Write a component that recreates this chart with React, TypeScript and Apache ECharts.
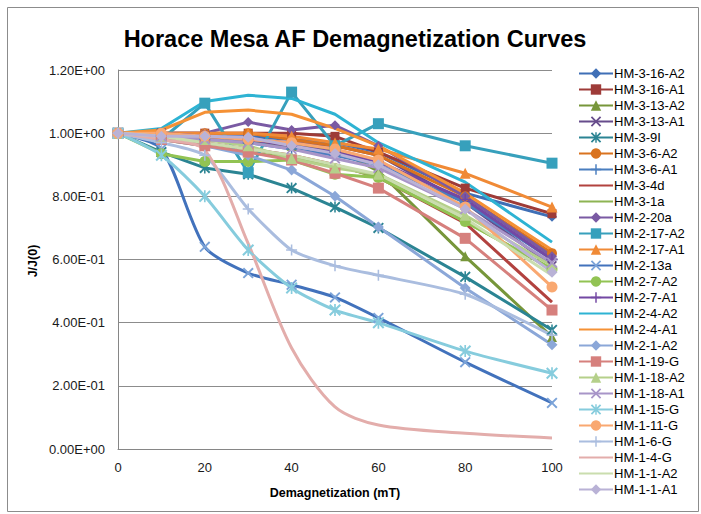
import React, { useEffect, useRef } from "react";
import * as echarts from "echarts";

// Demagnetization steps (mT)
const steps = [0, 10, 20, 30, 40, 50, 60, 80, 100];

// J/J(0) values per sample, one per step
const hm316A2 = [1.0, 1.0, 0.99, 0.99, 0.98, 0.97, 0.94, 0.81, 0.735];
const hm316A1 = [1.0, 1.0, 1.0, 1.0, 1.0, 0.99, 0.94, 0.826, 0.745];
const hm313A2 = [1.0, 0.99, 0.98, 0.97, 0.96, 0.95, 0.88, 0.61, 0.355];
const hm313A1 = [1.0, 1.0, 0.99, 0.98, 0.97, 0.96, 0.93, 0.78, 0.58];
const hm39I = [1.0, 0.94, 0.89, 0.87, 0.826, 0.766, 0.7, 0.545, 0.377];
const hm36A2 = [1.0, 1.0, 1.0, 1.0, 0.98, 0.96, 0.93, 0.8, 0.62];
const hm36A1 = [1.0, 0.99, 0.98, 0.97, 0.95, 0.93, 0.9, 0.78, 0.6];
const hm34d = [1.0, 0.99, 0.97, 0.95, 0.93, 0.9, 0.86, 0.715, 0.465];
const hm31a = [1.0, 0.98, 0.96, 0.94, 0.92, 0.9, 0.86, 0.72, 0.57];
const hm220a = [1.0, 1.0, 1.0, 1.035, 1.01, 1.025, 0.96, 0.8, 0.61];
const hm217A2 = [1.0, 0.98, 1.095, 0.875, 1.13, 0.96, 1.03, 0.96, 0.905];
const hm217A1 = [1.0, 1.0, 1.0, 1.0, 0.99, 0.97, 0.95, 0.873, 0.766];
const hm213a = [1.0, 0.95, 0.64, 0.557, 0.52, 0.48, 0.415, 0.275, 0.146];
const hm27A2 = [1.0, 0.935, 0.91, 0.91, 0.915, 0.87, 0.86, 0.72, 0.57];
const hm27A1 = [1.0, 1.0, 0.99, 0.98, 0.96, 0.94, 0.91, 0.79, 0.6];
const hm24A2 = [1.0, 1.015, 1.1, 1.12, 1.11, 1.06, 0.97, 0.845, 0.655];
const hm24A1 = [1.0, 1.01, 1.066, 1.073, 1.06, 1.015, 0.96, 0.81, 0.63];
const hm21A2 = [1.0, 0.98, 0.96, 0.93, 0.883, 0.8, 0.703, 0.51, 0.33];
const hm119G = [1.0, 0.98, 0.96, 0.94, 0.915, 0.873, 0.826, 0.667, 0.44];
const hm118A2 = [1.0, 0.99, 0.98, 0.96, 0.92, 0.89, 0.87, 0.74, 0.58];
const hm118A1 = [1.0, 0.99, 0.98, 0.97, 0.95, 0.92, 0.89, 0.76, 0.59];
const hm115G = [1.0, 0.93, 0.8, 0.63, 0.51, 0.44, 0.4, 0.31, 0.24];
const hm111G = [1.0, 1.0, 0.99, 0.98, 0.97, 0.95, 0.915, 0.766, 0.513];
const hm16G = [1.0, 0.97, 0.93, 0.76, 0.63, 0.58, 0.55, 0.49, 0.36];
const hm14G = [1.0, 0.98, 0.946, 0.65, 0.32, 0.133, 0.076, 0.05, 0.035];
const hm11A2 = [1.0, 0.99, 0.97, 0.95, 0.93, 0.9, 0.87, 0.73, 0.55];
const hm11A1 = [1.0, 0.99, 0.99, 0.987, 0.96, 0.936, 0.9, 0.76, 0.56];

const sampleNames = [
  "HM-3-16-A2", "HM-3-16-A1", "HM-3-13-A2", "HM-3-13-A1", "HM-3-9I", "HM-3-6-A2",
  "HM-3-6-A1", "HM-3-4d", "HM-3-1a", "HM-2-20a", "HM-2-17-A2", "HM-2-17-A1",
  "HM-2-13a", "HM-2-7-A2", "HM-2-7-A1", "HM-2-4-A2", "HM-2-4-A1", "HM-2-1-A2",
  "HM-1-19-G", "HM-1-18-A2", "HM-1-18-A1", "HM-1-15-G", "HM-1-11-G", "HM-1-6-G",
  "HM-1-4-G", "HM-1-1-A2", "HM-1-1-A1",
];
const sampleValues = [
  hm316A2, hm316A1, hm313A2, hm313A1, hm39I, hm36A2, hm36A1, hm34d, hm31a, hm220a,
  hm217A2, hm217A1, hm213a, hm27A2, hm27A1, hm24A2, hm24A1, hm21A2, hm119G, hm118A2,
  hm118A1, hm115G, hm111G, hm16G, hm14G, hm11A2, hm11A1,
];

const yTicks = [0, 0.2, 0.4, 0.6, 0.8, 1.0, 1.2];

// marker shapes
const X_SYM = "path://M0,1.2L1.2,0L5,3.8L8.8,0L10,1.2L6.2,5L10,8.8L8.8,10L5,6.2L1.2,10L0,8.8L3.8,5Z";
const PLUS_SYM = "path://M4.3,0H5.7V4.3H10V5.7H5.7V10H4.3V5.7H0V4.3H4.3Z";
const STAR_SYM = "path://M0,1.2L1.2,0L5,3.8L8.8,0L10,1.2L6.2,5L10,8.8L8.8,10L5,6.2L1.2,10L0,8.8L3.8,5Z M4.3,0H5.7V10H4.3Z";

// style per series (same order as names)
const styles: { line: string; mark?: string; sym: string; size: number; smooth?: number }[] = [
  { line: "#3F6FB6", sym: "diamond", size: 10 },
  { line: "#9E3B38", sym: "rect", size: 9 },
  { line: "#77963A", sym: "triangle", size: 10 },
  { line: "#674C8C", sym: X_SYM, size: 10 },
  { line: "#2B8493", sym: STAR_SYM, size: 11 },
  { line: "#D9731F", sym: "circle", size: 10 },
  { line: "#4A7EBF", sym: PLUS_SYM, size: 11 },
  { line: "#B2423F", sym: "none", size: 0 },
  { line: "#8DB453", sym: "none", size: 0 },
  { line: "#7A5AA3", sym: "diamond", size: 10 },
  { line: "#37A0BC", sym: "rect", size: 11 },
  { line: "#F08A36", sym: "triangle", size: 11 },
  { line: "#4272BC", mark: "#7BA3D8", sym: X_SYM, size: 11, smooth: 0.25 },
  { line: "#92C353", sym: "circle", size: 11 },
  { line: "#7348A3", sym: PLUS_SYM, size: 11 },
  { line: "#2EB3D3", sym: "none", size: 0 },
  { line: "#F59135", sym: "none", size: 0 },
  { line: "#8BA7D8", sym: "diamond", size: 11 },
  { line: "#D6807D", sym: "rect", size: 11 },
  { line: "#B5D08A", sym: "triangle", size: 11 },
  { line: "#A895C8", sym: X_SYM, size: 11 },
  { line: "#86CCDD", sym: STAR_SYM, size: 12, smooth: 0.25 },
  { line: "#F9A871", sym: "circle", size: 11 },
  { line: "#AABDDF", sym: PLUS_SYM, size: 11, smooth: 0.2 },
  { line: "#E3ADAB", sym: "none", size: 0, smooth: 0.3 },
  { line: "#CADDAE", sym: "none", size: 0 },
  { line: "#B9B2D6", sym: "diamond", size: 11 },
];

const FONT = "'Liberation Sans', Arial, sans-serif";

function sci(v: number): string {
  if (Math.abs(v) < 1e-12) return "0.00E+00";
  let e = Math.floor(Math.log10(Math.abs(v)) + 1e-9);
  let m = v / Math.pow(10, e);
  if (Math.round(m * 100) / 100 >= 10) {
    m /= 10;
    e += 1;
  }
  const sign = e < 0 ? "-" : "+";
  const ae = Math.abs(e);
  return m.toFixed(2) + "E" + sign + (ae < 10 ? "0" + ae : String(ae));
}

export default function App() {
  const ref = useRef<HTMLDivElement>(null);
  useEffect(() => {
    if (!ref.current) return;
    const chart = echarts.init(ref.current, undefined, { renderer: "svg" });
    const series = sampleNames.map((name, i) => {
      const st = styles[i];
      return {
        name,
        type: "line",
        data: steps.map((x, k) => [x, sampleValues[i][k]]),
        symbol: st.sym,
        symbolSize: st.size,
        showSymbol: st.sym !== "none",
        smooth: st.smooth ?? false,
        lineStyle: { color: st.line, width: 3 },
        itemStyle: { color: st.mark ?? st.line },
        emphasis: { disabled: true },
        z: 2,
      };
    });
    const legendData = sampleNames.map((name, i) =>
      styles[i].sym === "none"
        ? { name, itemStyle: { color: "rgba(0,0,0,0)", borderWidth: 0, opacity: 0 } }
        : { name }
    );
    chart.setOption({
      animation: false,
      backgroundColor: "#ffffff",
      textStyle: { fontFamily: FONT },
      graphic: [
        {
          type: "rect",
          shape: { x: 7.5, y: 7.5, width: 691, height: 504 },
          style: { fill: "none", stroke: "#8c8c8c", lineWidth: 1 },
          silent: true,
        },
        {
          type: "text",
          x: 355,
          y: 39,
          style: {
            text: "Horace Mesa AF Demagnetization Curves",
            fontFamily: FONT,
            fontSize: 23.5,
            fontWeight: "bold",
            fill: "#000000",
            textAlign: "center",
            textVerticalAlign: "middle",
          },
          silent: true,
        },
        {
          type: "text",
          x: 33,
          y: 261,
          rotation: Math.PI / 2,
          style: {
            text: "J/J(0)",
            fontFamily: FONT,
            fontSize: 12.5,
            fontWeight: "bold",
            fill: "#000000",
            textAlign: "center",
            textVerticalAlign: "middle",
          },
          silent: true,
        },
      ],
      grid: { left: 118, top: 70, right: 149, bottom: 65, containLabel: false },
      xAxis: {
        type: "value",
        min: 0,
        max: 100,
        interval: 20,
        name: "Demagnetization (mT)",
        nameLocation: "middle",
        nameGap: 37,
        nameMoveOverlap: false,
        nameTextStyle: { fontFamily: FONT, fontSize: 12.5, fontWeight: "bold", color: "#000" },
        axisLine: { show: true, lineStyle: { color: "#868686", width: 1 } },
        axisTick: { show: false },
        axisLabel: { fontFamily: FONT, fontSize: 13, color: "#1a1a1a", margin: 12 },
        splitLine: { show: false },
      },
      yAxis: {
        type: "value",
        min: 0,
        max: yTicks[yTicks.length - 1],
        interval: 0.2,
        axisLine: { show: true, lineStyle: { color: "#868686", width: 1 } },
        axisTick: { show: false },
        axisLabel: { fontFamily: FONT, fontSize: 13, color: "#1a1a1a", margin: 13, formatter: (v: number) => sci(v) },
        splitLine: { show: true, lineStyle: { color: "#8c8c8c", width: 1 } },
      },
      legend: {
        orient: "vertical",
        left: 578,
        top: 67,
        height: 440,
        itemWidth: 34,
        itemHeight: 13,
        itemGap: 3,
        padding: 0,
        textStyle: { fontFamily: FONT, fontSize: 13, color: "#000", padding: [0, 0, 0, -4], lineHeight: 13 },
        data: legendData,
        selectedMode: false,
      },
      series,
    });
    return () => chart.dispose();
  }, []);
  return (
    <div
      ref={ref}
      style={{ position: "fixed", left: 0, top: 0, width: 701, height: 514 }}
    />
  );
}
